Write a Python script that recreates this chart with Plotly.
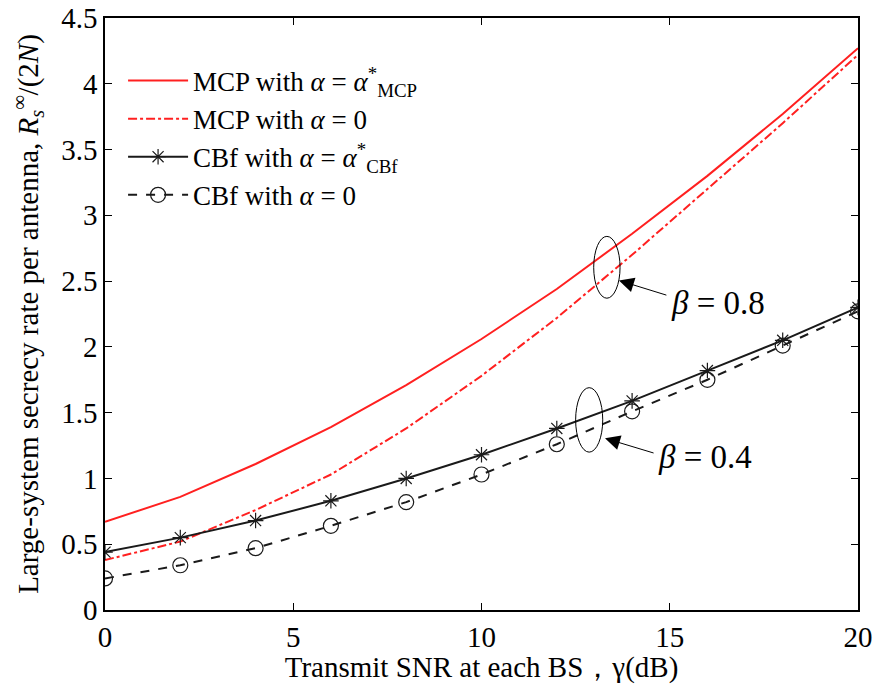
import plotly.graph_objects as go

snr = [0, 2, 4, 6, 8, 10, 12, 14, 16, 18, 20]
mcp_opt = [0.67, 0.86, 1.11, 1.39, 1.71, 2.06, 2.44, 2.86, 3.30, 3.77, 4.27]
mcp_zero = [0.38, 0.52, 0.76, 1.03, 1.38, 1.78, 2.22, 2.70, 3.20, 3.70, 4.22]
cbf_opt = [0.44, 0.55, 0.68, 0.83, 1.00, 1.18, 1.38, 1.59, 1.82, 2.05, 2.30]
cbf_zero = [0.24, 0.34, 0.47, 0.64, 0.82, 1.03, 1.26, 1.51, 1.75, 2.01, 2.27]

xticks = [0, 5, 10, 15, 20]
yticks = [0, 0.5, 1, 1.5, 2, 2.5, 3, 3.5, 4, 4.5]
ytick_labels = ["0", "0.5", "1", "1.5", "2", "2.5", "3", "3.5", "4", "4.5"]

FONT = "Liberation Serif"
RED = "#ff2020"

fig = go.Figure()
fig.add_trace(go.Scatter(x=snr, y=mcp_opt, mode="lines",
                         line=dict(color=RED, width=2),
                         name="MCP with <i>α</i> = <i>α</i><sup>*</sup><sub>MCP</sub>"))
fig.add_trace(go.Scatter(x=snr, y=mcp_zero, mode="lines",
                         line=dict(color=RED, width=2, dash="dashdot"),
                         name="MCP with <i>α</i> = 0"))
fig.add_trace(go.Scatter(x=snr, y=cbf_opt, mode="lines+markers",
                         line=dict(color="#1a1a1a", width=2),
                         marker=dict(symbol="asterisk-open", size=13,
                                     line=dict(color="#1a1a1a", width=1.2)),
                         name="CBf with <i>α</i> = <i>α</i><sup>*</sup><sub>CBf</sub>"))
fig.add_trace(go.Scatter(x=snr, y=cbf_zero, mode="lines+markers",
                         line=dict(color="#1a1a1a", width=2, dash="dash"),
                         marker=dict(symbol="circle-open", size=15,
                                     line=dict(color="#1a1a1a", width=1.2)),
                         name="CBf with <i>α</i> = 0"))

# ellipses
fig.add_shape(type="circle", xref="x", yref="y",
              x0=12.98, x1=13.68, y0=2.37, y1=2.84,
              line=dict(color="black", width=1))
fig.add_shape(type="circle", xref="x", yref="y",
              x0=12.5, x1=13.22, y0=1.20, y1=1.69,
              line=dict(color="black", width=1))

# arrows
fig.add_annotation(x=13.65, y=2.505, ax=14.95, ay=2.39, xref="x", yref="y",
                   axref="x", ayref="y", text="", showarrow=True,
                   arrowhead=2, arrowsize=3, arrowwidth=1, arrowcolor="black")
fig.add_annotation(x=13.28, y=1.305, ax=14.61, ay=1.19, xref="x", yref="y",
                   axref="x", ayref="y", text="", showarrow=True,
                   arrowhead=2, arrowsize=3, arrowwidth=1, arrowcolor="black")
fig.add_annotation(x=16.28, y=2.33, xref="x", yref="y", text="<i>β</i> = 0.8",
                   showarrow=False, font=dict(family=FONT, size=33, color="black"))
fig.add_annotation(x=15.94, y=1.16, xref="x", yref="y", text="<i>β</i> = 0.4",
                   showarrow=False, font=dict(family=FONT, size=33, color="black"))

axis_common = dict(showgrid=False, zeroline=False, showline=True, linecolor="black",
                   linewidth=1.5, mirror="ticks", ticks="inside", ticklen=7,
                   tickcolor="black", automargin=False,
                   tickfont=dict(family=FONT, size=29, color="black"))

fig.update_xaxes(range=[0, 20], tickvals=xticks, ticktext=[str(v) for v in xticks],
                 title=dict(text="Transmit SNR at each BS，γ(dB)",
                            font=dict(family=FONT, size=29, color="black"), standoff=0),
                 **axis_common)
fig.update_yaxes(range=[0, 4.5], tickvals=yticks, ticktext=ytick_labels,
                 title=dict(text="Large-system secrecy rate per antenna, <i>R</i><sub><i>s</i></sub><sup>∞</sup>/(2<i>N</i>)",
                            font=dict(family=FONT, size=29, color="black"), standoff=14),
                 **axis_common)

fig.update_layout(
    width=878, height=684,
    margin=dict(l=105, r=20, t=18, b=74, autoexpand=False),
    paper_bgcolor="white", plot_bgcolor="white",
    font=dict(family=FONT, color="black"),
    legend=dict(x=0.024, y=0.935, xanchor="left", yanchor="top",
                bgcolor="rgba(255,255,255,0)", borderwidth=0,
                font=dict(family=FONT, size=27, color="black"),
                itemwidth=60, tracegroupgap=0),
    showlegend=True,
)

fig.write_html("out.html")
